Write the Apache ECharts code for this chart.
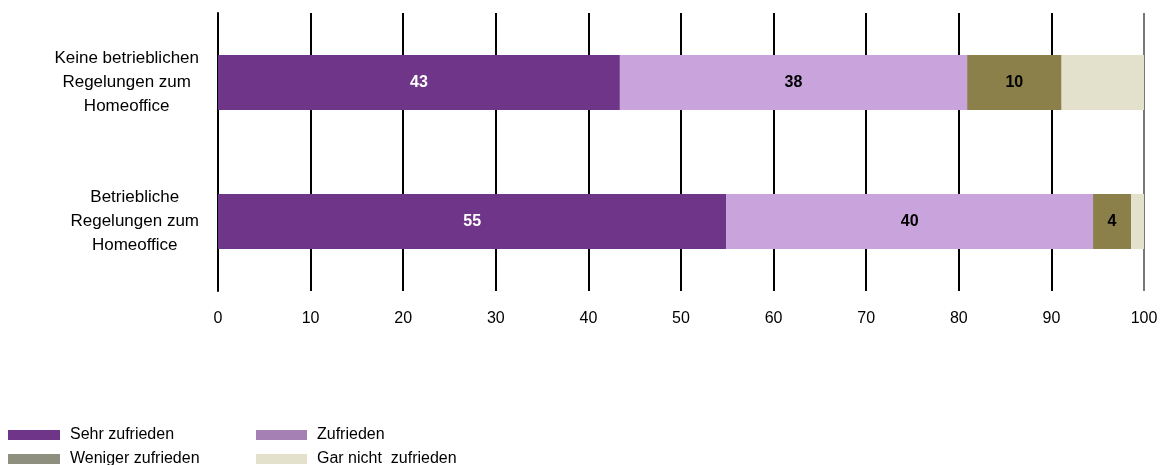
<!DOCTYPE html>
<html>
<head>
<meta charset="utf-8">
<script src="https://cdn.jsdelivr.net/npm/echarts@6/dist/echarts.min.js"></script>
<style>html,body{margin:0;padding:0;background:#fff}#c{width:1167px;height:465px}</style>
</head>
<body>
<div id="c"></div>
<script>
var categories = ['Betriebliche\nRegelungen zum\nHomeoffice', 'Keine betrieblichen\nRegelungen zum\nHomeoffice'];
var seriesNames = ['Sehr zufrieden', 'Zufrieden', 'Weniger zufrieden', 'Gar nicht  zufrieden'];
var sehrZufrieden = [54.9, 43.4];
var zufrieden = [39.6, 37.5];
var wenigerZufrieden = [4.1, 10.2];
var garNichtZufrieden = [1.4, 8.9];
var xTicks = [0, 10, 20, 30, 40, 50, 60, 70, 80, 90, 100];

var FONT = '"Liberation Sans", Arial, sans-serif';
var barColors = ['#6f3589', '#c9a3dc', '#8b8049', '#e3e1cc'];
var legendColors = ['#6f3589', '#a580b5', '#8f8f80', '#e3e1cc'];
var values = [sehrZufrieden, zufrieden, wenigerZufrieden, garNichtZufrieden];
var labelColors = ['#ffffff', '#000000', '#000000', '#000000'];

var series = seriesNames.map(function (n, i) {
  return {
    name: n, type: 'bar', stack: 'a', barWidth: 55,
    data: values[i],
    itemStyle: { color: barColors[i] },
    label: {
      show: i < 3, position: 'inside', color: labelColors[i],
      fontFamily: FONT, fontWeight: 'bold', fontSize: 16,
      formatter: function (p) { return Math.round(p.value); }
    },
    z: 3
  };
});

var legendPos = [[3, 422], [251, 422], [3, 446], [251, 446]];
var legendW = [52, 51, 52, 51];
var legends = seriesNames.map(function (n, i) {
  return {
    left: legendPos[i][0], top: legendPos[i][1],
    itemWidth: legendW[i], itemHeight: 10, itemGap: 0,
    icon: 'rect',
    textStyle: { fontFamily: FONT, fontSize: 16, color: '#000', padding: [0, 0, 0, 5] },
    data: [{ name: n, itemStyle: { color: legendColors[i] } }],
    selectedMode: false
  };
});

var gridColors = xTicks.map(function (v) { return v === 100 ? '#777777' : '#000000'; });

var chart = echarts.init(document.getElementById('c'));
chart.setOption({
  animation: false,
  grid: { left: 218, right: 23, top: 13, bottom: 174 },
  legend: legends,
  xAxis: {
    type: 'value', min: 0, max: 100, interval: 10,
    axisLine: { show: false },
    axisTick: { show: false },
    splitLine: { show: true, lineStyle: { color: gridColors, width: 2 } },
    axisLabel: {
      fontFamily: FONT, fontSize: 16, color: '#000', margin: 20,
      formatter: function (v) { return xTicks.indexOf(v) >= 0 ? String(v) : ''; }
    }
  },
  yAxis: {
    type: 'category', data: categories,
    axisLine: { show: true, lineStyle: { color: '#000', width: 2 } },
    axisTick: { show: false },
    axisLabel: {
      fontFamily: FONT, fontSize: 17, color: '#000', margin: 19,
      align: 'right', lineHeight: 24,
      formatter: function (v) {
        return v.split('\n').map(function (s) { return '{c|' + s + '}'; }).join('\n');
      },
      rich: {
        c: { align: 'center', fontFamily: FONT, fontSize: 17, color: '#000', lineHeight: 24 }
      }
    }
  },
  series: series
});
</script>
</body>
</html>
